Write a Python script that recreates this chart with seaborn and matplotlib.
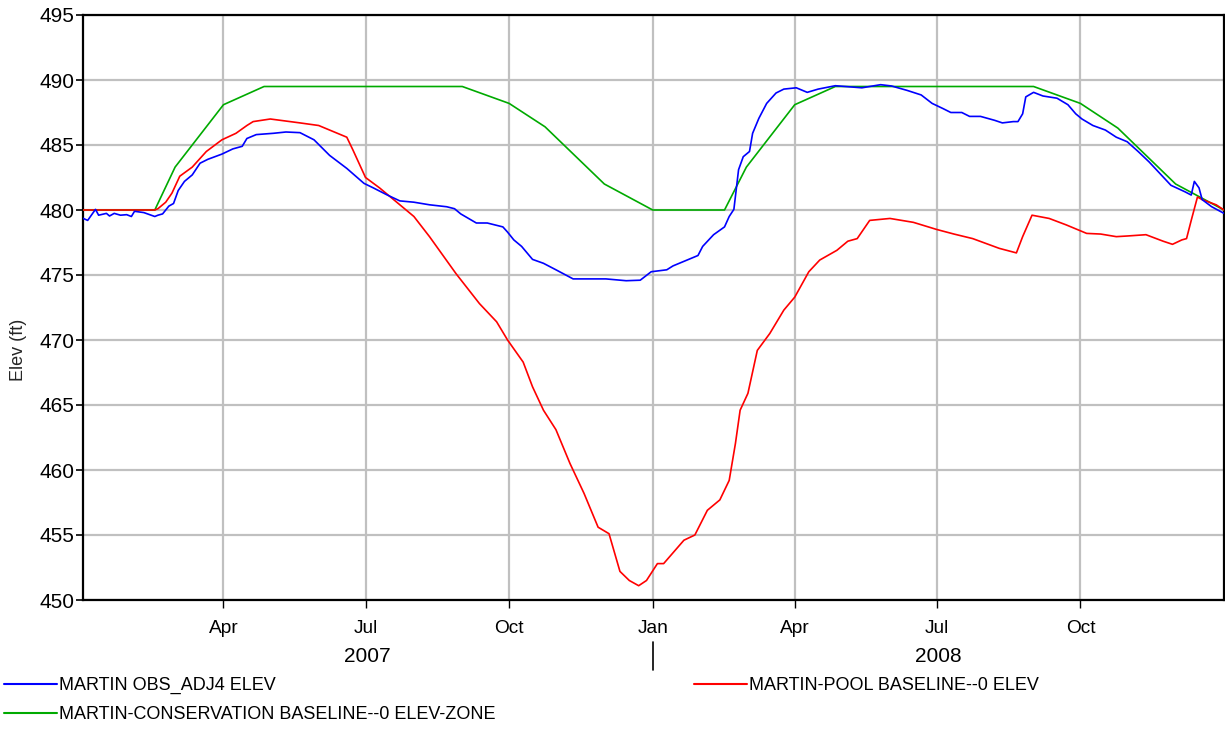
import numpy as np
import pandas as pd
import matplotlib
matplotlib.use("Agg")
import matplotlib.pyplot as plt
import matplotlib.dates as mdates
from matplotlib.lines import Line2D
import seaborn as sns

# ---------------- data (days since 2007-01-01, elevation ft) ----------------
START = "2007-01-01"

obs_days = [0, 3, 8, 10, 15, 17, 20, 24, 28, 31, 33, 39, 46, 48, 51, 55, 58, 61, 65, 70,
            75, 80, 89, 96, 102, 105, 111, 122, 130, 139, 148, 158, 169, 180, 186, 195,
            203, 212, 222, 233, 238, 242, 252, 259, 269, 272, 276, 281, 288, 295, 303,
            314, 327, 335, 348, 357, 364, 374, 378, 387, 394, 397, 404, 411, 414, 417,
            420, 423, 427, 429, 433, 438, 444, 449, 457, 464, 471, 482, 499, 511, 518,
            528, 537, 544, 551, 556, 563, 568, 575, 584, 589, 596, 599, 602, 604, 609,
            615, 624, 631, 636, 640, 647, 655, 662, 669, 676, 683, 690, 697, 706, 710,
            712, 715, 717, 723, 727, 731]
obs_elev = [479.36, 479.2, 480.05, 479.6, 479.74, 479.54, 479.74, 479.6, 479.64, 479.5,
            479.9, 479.8, 479.5, 479.6, 479.7, 480.3, 480.5, 481.5, 482.2, 482.7,
            483.6, 483.9, 484.3, 484.7, 484.9, 485.5, 485.8, 485.9, 486.0, 485.95,
            485.4, 484.2, 483.2, 482.05, 481.7, 481.15, 480.7, 480.6, 480.4, 480.25,
            480.1, 479.7, 479.0, 479.0, 478.7, 478.3, 477.7, 477.2, 476.2, 475.9,
            475.4, 474.7, 474.7, 474.7, 474.56, 474.6, 475.25, 475.4, 475.7, 476.15,
            476.5, 477.2, 478.1, 478.7, 479.5, 480.05, 483.1, 484.1, 484.5, 485.9,
            487.05, 488.2, 489.0, 489.3, 489.4, 489.05, 489.3, 489.56, 489.4, 489.64,
            489.54, 489.2, 488.85, 488.2, 487.8, 487.5, 487.5, 487.2, 487.2, 486.9,
            486.7, 486.8, 486.8, 487.4, 488.7, 489.05, 488.77, 488.6, 488.1, 487.4,
            487.0, 486.5, 486.15, 485.6, 485.25, 484.5, 483.7, 482.8, 481.9, 481.4,
            481.15, 482.2, 481.7, 480.8, 480.26, 480.0, 479.74]

pool_days = [0, 46, 48, 53, 57, 62, 70, 79, 89, 98, 105, 109, 120, 139, 151, 169, 173,
             181, 190, 201, 212, 222, 239, 254, 265, 272, 282, 288, 295, 303, 312, 321,
             330, 337, 344, 350, 356, 361, 368, 372, 385, 392, 400, 408, 414, 418, 421,
             426, 432, 440, 449, 456, 465, 472, 483, 490, 496, 504, 517, 532, 547, 558,
             570, 587, 598, 602, 608, 619, 630, 643, 652, 662, 669, 681, 692, 698, 704,
             707, 710, 714, 717, 726, 731]
pool_elev = [480.0, 480.0, 480.1, 480.6, 481.3, 482.6, 483.3, 484.5, 485.4, 485.9, 486.5,
             486.8, 487.0, 486.7, 486.5, 485.6, 484.6, 482.5, 481.7, 480.6, 479.5, 477.95,
             475.1, 472.8, 471.4, 470.0, 468.3, 466.4, 464.6, 463.1, 460.5, 458.2, 455.6,
             455.1, 452.2, 451.5, 451.1, 451.5, 452.8, 452.8, 454.6, 455.0, 456.9, 457.7,
             459.2, 462.05, 464.6, 465.9, 469.2, 470.5, 472.3, 473.3, 475.25, 476.15,
             476.9, 477.6, 477.8, 479.2, 479.35, 479.05, 478.5, 478.15, 477.8, 477.05,
             476.7, 477.95, 479.6, 479.35, 478.85, 478.2, 478.15, 477.95, 478.0, 478.1,
             477.6, 477.36, 477.7, 477.8, 479.2, 481.0, 480.8, 480.4, 480.0]

zone_dates = ["2007-01-01", "2007-02-16", "2007-03-01", "2007-04-01", "2007-04-27",
              "2007-09-01", "2007-10-01", "2007-10-24", "2007-12-01", "2008-01-01",
              "2008-02-16", "2008-03-01", "2008-04-01", "2008-04-27", "2008-09-01",
              "2008-10-01", "2008-10-25", "2008-12-01", "2009-01-01"]
zone_elev = [480.0, 480.0, 483.3, 488.1, 489.5, 489.5, 488.2, 486.4, 482.0, 480.0,
             480.0, 483.3, 488.1, 489.5, 489.5, 488.2, 486.3, 482.0, 480.0]

labels = ["MARTIN OBS_ADJ4 ELEV", "MARTIN-POOL BASELINE--0 ELEV",
          "MARTIN-CONSERVATION BASELINE--0 ELEV-ZONE"]
quarter_ticks = ["2007-04-01", "2007-07-01", "2007-10-01", "2008-01-01",
                 "2008-04-01", "2008-07-01", "2008-10-01"]
quarter_labels = ["Apr", "Jul", "Oct", "Jan", "Apr", "Jul", "Oct"]
years = ["2007", "2008"]
year_centers = ["2007-07-02", "2008-07-02"]
y_ticks = list(range(450, 500, 5))

# ---------------- style ----------------
sns.set_theme(style="white")
plt.rcParams["font.family"] = ["Liberation Sans", "DejaVu Sans"]
plt.rcParams["text.color"] = "black"
plt.rcParams["xtick.color"] = "black"
plt.rcParams["ytick.color"] = "black"

t0 = pd.Timestamp(START)
obs_df = pd.DataFrame({"date": t0 + pd.to_timedelta(obs_days, unit="D"), "elev": obs_elev})
pool_df = pd.DataFrame({"date": t0 + pd.to_timedelta(pool_days, unit="D"), "elev": pool_elev})
zone_df = pd.DataFrame({"date": pd.to_datetime(zone_dates), "elev": zone_elev})

fig = plt.figure(figsize=(12.25, 7.40), dpi=100)
ax = fig.add_axes([83 / 1225, 1 - 600 / 740, 1141 / 1225, 585 / 740])

GRID = "#c0c0c0"
for q in quarter_ticks:
    ax.axvline(pd.Timestamp(q), color=GRID, lw=1.6, zorder=0)
for yv in y_ticks:
    ax.axhline(yv, color=GRID, lw=1.6, zorder=0)

lw = 1.2
sns.lineplot(data=zone_df, x="date", y="elev", ax=ax, color="#00aa00", lw=lw,
             estimator=None, legend=False, zorder=3)
sns.lineplot(data=pool_df, x="date", y="elev", ax=ax, color="#ff0000", lw=lw,
             estimator=None, legend=False, zorder=4)
sns.lineplot(data=obs_df, x="date", y="elev", ax=ax, color="#0000ff", lw=lw,
             estimator=None, legend=False, zorder=5)

ax.set_xlim(pd.Timestamp("2007-01-01"), pd.Timestamp("2009-01-01"))
ax.set_ylim(450, 495)
ax.set_yticks(y_ticks)
ax.set_yticklabels([str(v) for v in y_ticks], fontsize=15, family="Liberation Sans")
ax.set_xticks([pd.Timestamp(q) for q in quarter_ticks])
ax.set_xticklabels(quarter_labels, fontsize=13.8, family="Liberation Sans")
ax.tick_params(axis="y", direction="out", length=5, width=1.2, color="black", pad=1,
               left=True)
ax.tick_params(axis="x", direction="out", length=5.5, width=1.0, color="black", pad=9,
               bottom=True)
ax.set_xlabel("")
ax.set_ylabel("Elev (ft)", fontsize=13, family="Liberation Sans")
ax.yaxis.set_label_coords(-0.049, 0.427)
for s in ax.spines.values():
    s.set_color("black")
    s.set_linewidth(1.6)
    s.set_visible(True)

trans = matplotlib.transforms.blended_transform_factory(ax.transData, ax.transAxes)
for yr, c in zip(years, year_centers):
    ax.text(pd.Timestamp(c), -0.0974, yr, transform=trans, ha="center", va="center",
            fontsize=15, family="Liberation Sans")
sep_x = mdates.date2num(pd.Timestamp("2008-01-01"))
ax.add_line(Line2D([sep_x, sep_x], [-0.0718, -0.1197], transform=trans, color="black",
                   lw=1.2, clip_on=False))

# ---------------- legends ----------------
h_obs = Line2D([], [], color="#0000ff", lw=1.5)
h_pool = Line2D([], [], color="#ff0000", lw=1.5)
h_zone = Line2D([], [], color="#00aa00", lw=1.5)
leg_kw = dict(frameon=False, handlelength=2.95, handletextpad=0.08, borderaxespad=0,
              borderpad=0, prop={"family": "Liberation Sans", "size": 13},
              labelspacing=0.66)
fig.legend([h_obs, h_zone], [labels[0], labels[2]], loc="upper left",
           bbox_to_anchor=(4 / 1225, 1 - 677 / 740), **leg_kw)
fig.legend([h_pool], [labels[1]], loc="upper left",
           bbox_to_anchor=(694 / 1225, 1 - 677 / 740), **leg_kw)

fig.savefig("out.png", dpi=100, facecolor="white")
